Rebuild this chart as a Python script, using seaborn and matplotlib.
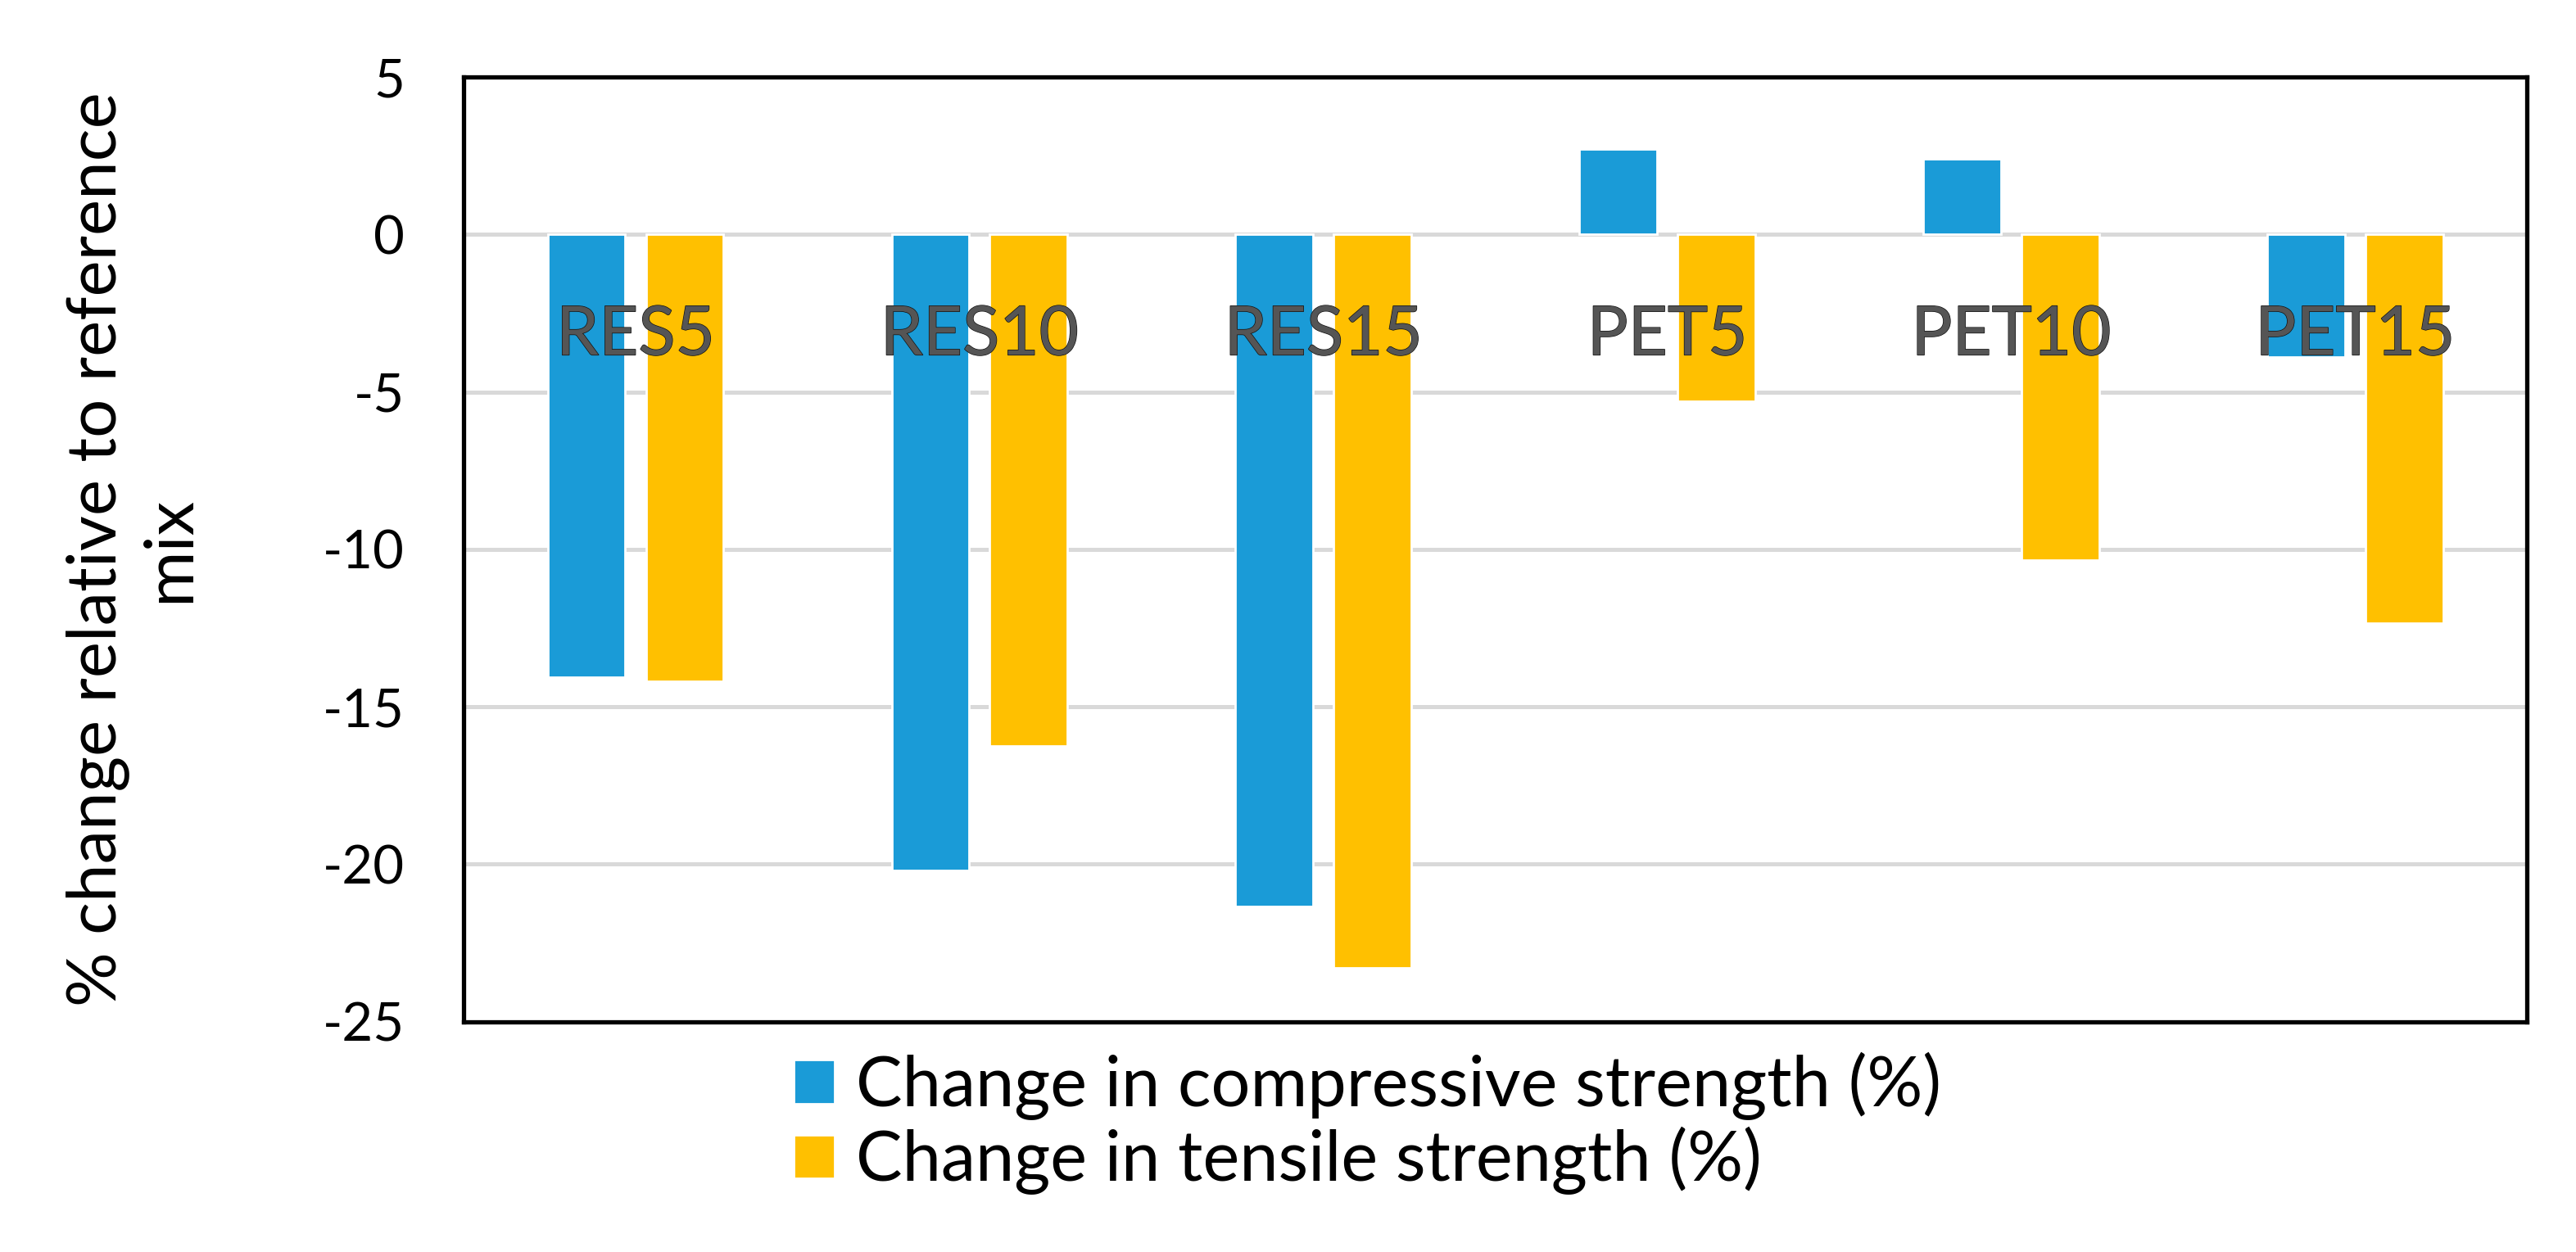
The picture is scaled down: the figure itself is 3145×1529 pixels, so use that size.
import matplotlib
matplotlib.use('Agg')
from matplotlib import pyplot as plt
from matplotlib import patheffects
import pandas as pd
import seaborn as sns

# values
mixes = ['RES5', 'RES10', 'RES15', 'PET5', 'PET10', 'PET15']
compressive = [-14.05, -20.2, -21.35, 2.7, 2.4, -3.9]
tensile = [-14.2, -16.25, -23.3, -5.3, -10.35, -12.35]
series = ['Change in compressive strength (%)', 'Change in tensile strength (%)']
colors = ['#1A9BD7', '#FFC000']
yticks = [5, 0, -5, -10, -15, -20, -25]

df = pd.DataFrame({
    'Mix': mixes * 2,
    'Change': compressive + tensile,
    'Property': [series[0]] * len(mixes) + [series[1]] * len(mixes),
})

sns.set_style('white')
plt.rcParams['font.family'] = ['Lato', 'DejaVu Sans']
plt.rcParams['axes.unicode_minus'] = False
plt.rcParams['text.color'] = 'black'
plt.rcParams['axes.labelcolor'] = 'black'

fig = plt.figure(figsize=(15.725, 7.645), dpi=200)
ax = fig.add_axes([0.180, 0.184, 0.801, 0.7545])

sns.barplot(data=df, x='Mix', y='Change', hue='Property', order=mixes,
            hue_order=series, palette=colors, width=0.571, gap=0.21,
            saturation=1, ax=ax)

ax.set_ylim(-25, 5)
ax.set_yticks(yticks)
ax.yaxis.grid(True, color='#D9D9D9', linewidth=1.8)
ax.set_axisbelow(True)
ax.tick_params(axis='y', length=0, pad=26, labelsize=23.5, labelcolor='black')
for s in ax.spines.values():
    s.set_visible(True)
    s.set_color('black')
    s.set_linewidth(1.9)

# category labels sit just under the zero line, drawn over the bars
ax.set_xlabel('')
ax.tick_params(axis='x', bottom=False, labelbottom=False)
sec = ax.secondary_xaxis(0, transform=ax.transData)
sec.set_zorder(5)
sec.set_xticks(range(len(mixes)), labels=mixes)
sec.tick_params(length=0, pad=31, labelsize=30, labelcolor='#555555')
sec.spines['bottom'].set_visible(False)
for t in sec.get_xticklabels():
    t.set_path_effects([patheffects.withStroke(linewidth=0.5, foreground='#111111')])

ax.set_ylabel('% change relative to reference\nmix', fontsize=30, color='black')
ax.yaxis.set_label_coords(-0.127, 0.5)

h, l = ax.get_legend_handles_labels()
ax.get_legend().remove()
fig.legend(h, l, loc='upper left', bbox_to_anchor=(0.308, 0.160), frameon=False,
           fontsize=30.5, handlelength=0.6, handleheight=0.6, handletextpad=0.3,
           labelspacing=0.1, borderpad=0, borderaxespad=0)

plt.savefig('out.png', dpi=200)
